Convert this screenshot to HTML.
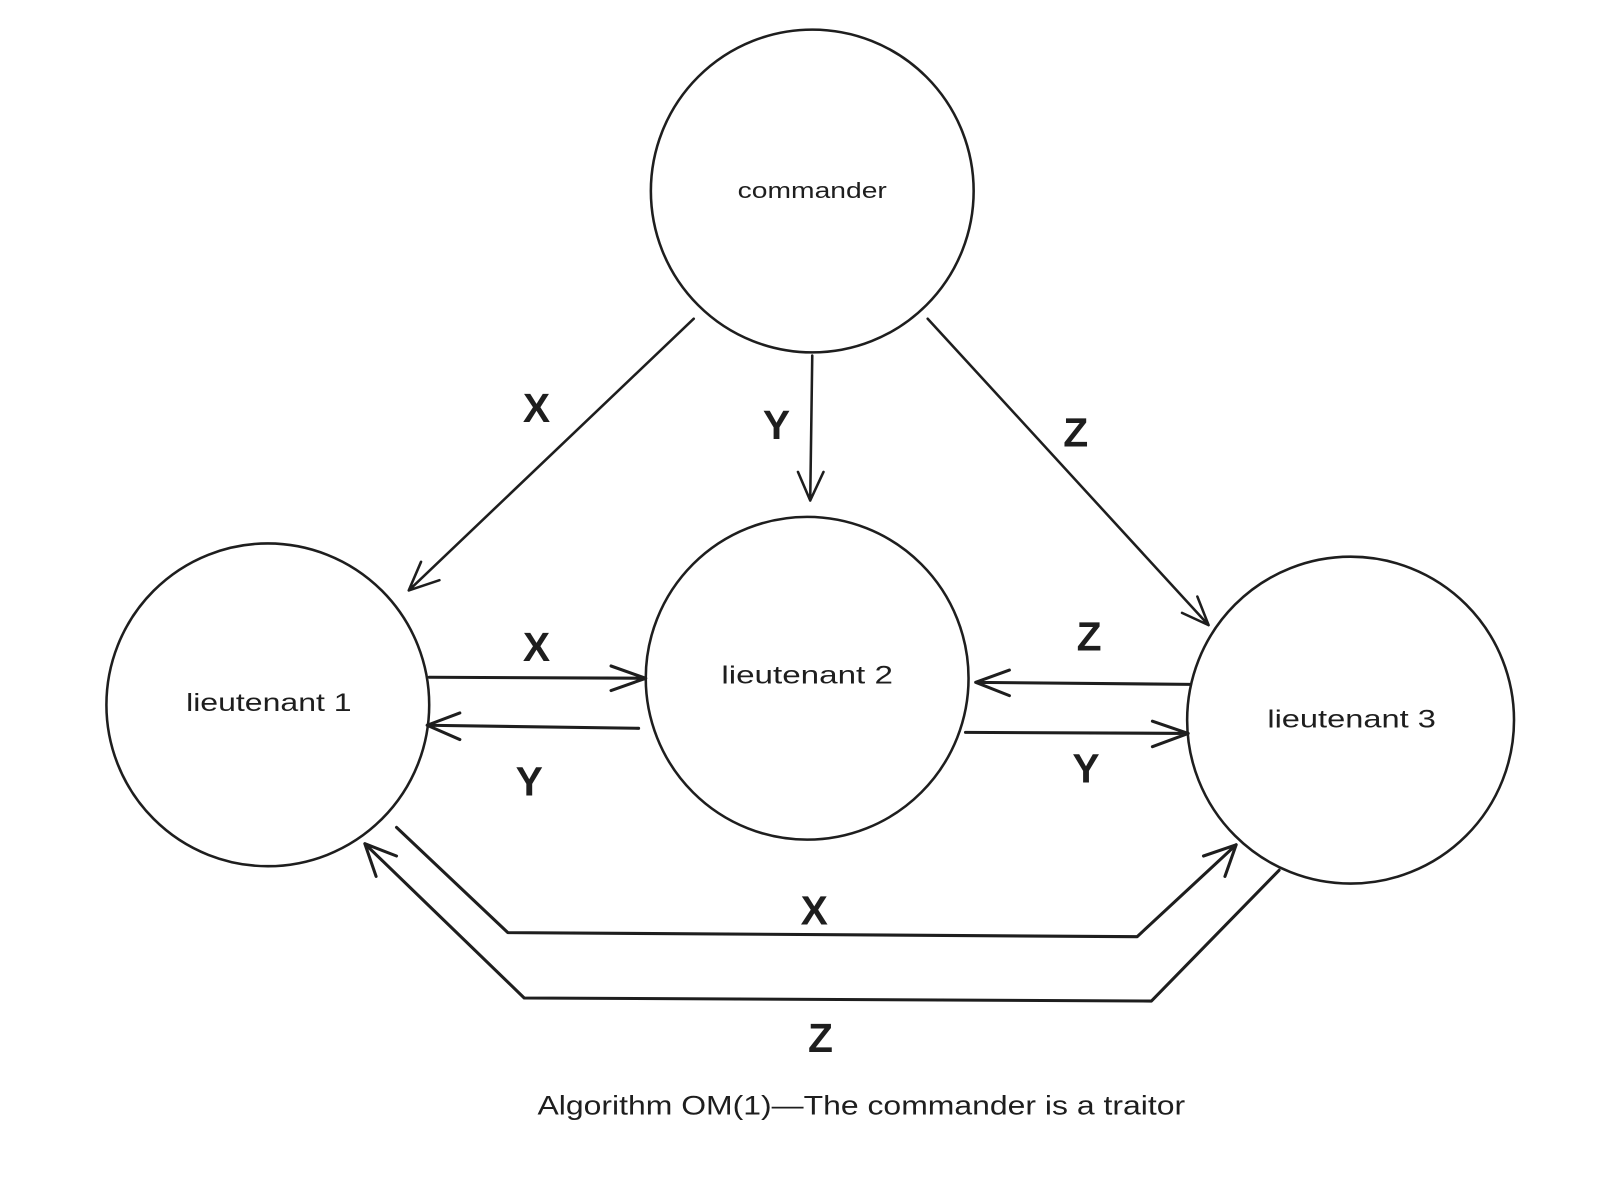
<!DOCTYPE html>
<html><head><meta charset="utf-8"><style>html,body{margin:0;padding:0;background:#fff}svg{display:block}</style></head>
<body>
<svg width="1600" height="1189" viewBox="0 0 1566 1164" xmlns="http://www.w3.org/2000/svg">
<g fill="none" stroke="#1e1e1e" stroke-width="2.5" stroke-linecap="round" stroke-linejoin="round">
<circle cx="795" cy="187" r="158"/>
<circle cx="262" cy="690" r="158"/>
<circle cx="790" cy="664" r="158"/>
<circle cx="1322" cy="705" r="160"/>
<path d="M679 312 L400 578 M400 578 L412 550 M400 578 L430 568"/>
<path d="M795 348 L793 490 M793 490 L781 462 M793 490 L806 462"/>
<path d="M908 312 L1183 612 M1183 612 L1157 600 M1183 612 L1172 584"/>
<path d="M420 663 L632 664 M632 664 L598 652 M632 664 L598 676" stroke-width="3"/>
<path d="M625 713 L418 710 M418 710 L450 698 M418 710 L450 724" stroke-width="3"/>
<path d="M1165 670 L955 668 M955 668 L988 656 M955 668 L988 681" stroke-width="3"/>
<path d="M945 717 L1163 718 M1163 718 L1128 706 M1163 718 L1128 731" stroke-width="3"/>
<path d="M388 810 L497 913 L1113 917 L1210 827 M1210 827 L1178 838 M1210 827 L1199 858" stroke-width="3"/>
<path d="M1252 852 L1127 980 L513 977 L357 826 M357 826 L368 858 M357 826 L388 838" stroke-width="3"/>
</g>
<g font-family="'Liberation Sans', sans-serif" fill="#1e1e1e" text-anchor="middle">
<text x="795" y="194" font-size="22" textLength="146" lengthAdjust="spacingAndGlyphs">commander</text>
<text x="263" y="696" font-size="24" textLength="162" lengthAdjust="spacingAndGlyphs">lieutenant 1</text>
<text x="790" y="669" font-size="24" textLength="168" lengthAdjust="spacingAndGlyphs">lieutenant 2</text>
<text x="1323" y="712" font-size="24" textLength="165" lengthAdjust="spacingAndGlyphs">lieutenant 3</text>
<g font-size="40" font-weight="bold">
<text x="525" y="413">X</text>
<text x="760" y="430">Y</text>
<text x="1053" y="437">Z</text>
<text x="525" y="647">X</text>
<text x="518" y="779">Y</text>
<text x="1066" y="637">Z</text>
<text x="1063" y="766">Y</text>
<text x="797" y="905">X</text>
<text x="803" y="1030">Z</text>
</g>
<text x="843" y="1091" font-size="26" textLength="634" lengthAdjust="spacingAndGlyphs">Algorithm OM(1)—The commander is a traitor</text>
</g>
</svg>
</body></html>
